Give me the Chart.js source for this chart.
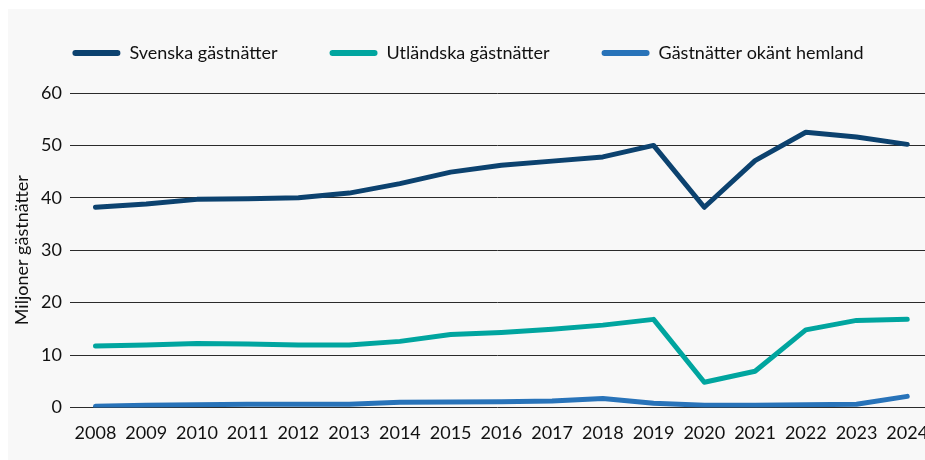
<!DOCTYPE html>
<html>
<head>
<meta charset="utf-8">
<script src="https://cdn.jsdelivr.net/npm/chart.js@4/dist/chart.umd.min.js"></script>
<style>
  html, body { margin: 0; padding: 0; background: #ffffff; }
  #wrap { position: absolute; left: 8px; top: 9px; width: 917px; height: 451px; background: #f8f8f8; }
</style>
</head>
<body>
<div id="wrap"><canvas id="chart" width="917" height="451"></canvas></div>
<script>
// --- DATA ---
const years = [2008, 2009, 2010, 2011, 2012, 2013, 2014, 2015, 2016, 2017, 2018, 2019, 2020, 2021, 2022, 2023, 2024];
const svenska = [38.2, 38.8, 39.7, 39.8, 40.0, 40.9, 42.7, 44.9, 46.2, 47.0, 47.8, 50.0, 38.2, 47.1, 52.5, 51.6, 50.2];
const utlandska = [11.7, 11.9, 12.2, 12.1, 11.9, 11.9, 12.6, 13.9, 14.3, 14.9, 15.7, 16.8, 4.8, 6.9, 14.8, 16.6, 16.8];
const okant = [0.2, 0.4, 0.5, 0.6, 0.6, 0.6, 1.0, 1.05, 1.1, 1.2, 1.7, 0.8, 0.4, 0.4, 0.5, 0.6, 2.1];
const yTicks = [0, 10, 20, 30, 40, 50, 60];

const FONT = 'Lato';

const serie = (label, values, color) => ({
    label: label,
    data: values.map((v, i) => ({ x: years[i], y: v })),
    borderColor: color,
    backgroundColor: color,
    borderWidth: 5,
    borderCapStyle: 'round',
    borderJoinStyle: 'round',
    pointRadius: 0,
    tension: 0
});

// extra space under the legend
const legendGap = {
    id: 'legendGap',
    beforeInit(chart) {
        const fit = chart.legend.fit;
        chart.legend.fit = function () {
            fit.bind(chart.legend)();
            this.height += 21;
        };
    }
};

const ctx = document.getElementById('chart').getContext('2d');
new Chart(ctx, {
    type: 'line',
    data: {
        datasets: [
            serie('Svenska gästnätter', svenska, '#0c426f'),
            serie('Utländska gästnätter', utlandska, '#00a59f'),
            serie('Gästnätter okänt hemland', okant, '#2873b9')
        ]
    },
    plugins: [legendGap],
    options: {
        responsive: false,
        animation: false,
        layout: { padding: { top: -17, left: 3, right: 0, bottom: 1 } },
        plugins: {
            tooltip: { enabled: false },
            legend: {
                position: 'top',
                labels: {
                    boxWidth: 48,
                    boxHeight: 6,
                    useBorderRadius: true,
                    borderRadius: 3,
                    padding: 52,
                    color: '#111',
                    font: { family: FONT, size: 18 },
                    generateLabels: (chart) => Chart.defaults.plugins.legend.labels.generateLabels(chart)
                        .map(l => Object.assign(l, { lineWidth: 0 }))
                }
            }
        },
        scales: {
            x: {
                type: 'linear',
                min: 2007.4975,
                max: 2024.35,
                afterBuildTicks: (axis) => { axis.ticks = years.map(y => ({ value: y })); },
                afterFit: (axis) => { axis.paddingLeft = 0; axis.paddingRight = 0; },
                grid: { display: false, drawTicks: false },
                border: { display: false },
                ticks: {
                    color: '#111',
                    padding: 15,
                    maxRotation: 0,
                    autoSkip: false,
                    font: { family: FONT, size: 18 },
                    callback: (v) => String(v)
                }
            },
            y: {
                min: 0,
                max: 60,
                afterBuildTicks: (axis) => { axis.ticks = yTicks.map(v => ({ value: v })); },
                afterFit: (axis) => { axis.width = 59; },
                grid: { color: '#2b2b2b', lineWidth: 1, drawTicks: false },
                border: { display: false },
                ticks: {
                    color: '#111',
                    padding: 8,
                    font: { family: FONT, size: 18 }
                },
                title: {
                    display: true,
                    text: 'Miljoner gästnätter',
                    color: '#111',
                    padding: { top: 0, bottom: 0 },
                    font: { family: FONT, size: 18 }
                }
            }
        }
    }
});
</script>
</body>
</html>
